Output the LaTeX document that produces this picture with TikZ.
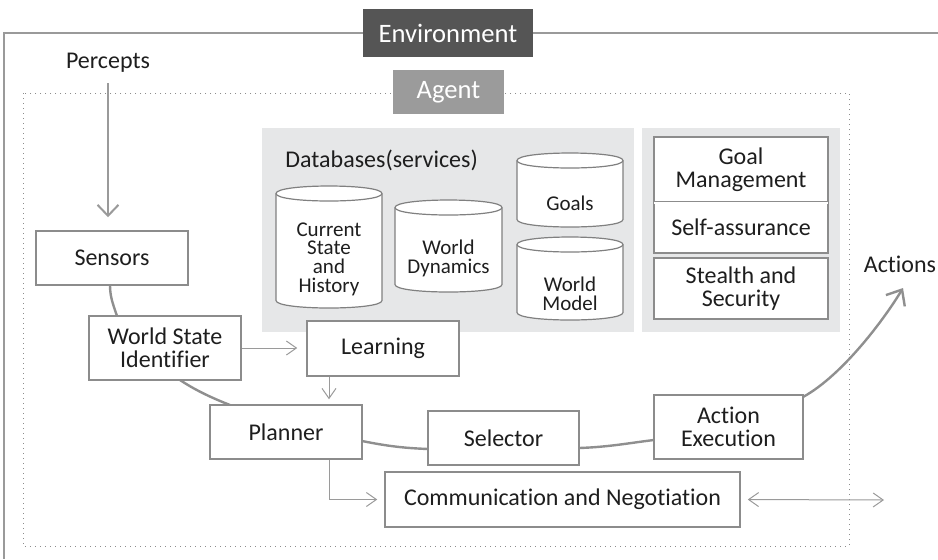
\documentclass[tikz,border=0pt]{standalone}
\usepackage{fontspec}
\setmainfont{Carlito}[Ligatures=NoCommon]
\usetikzlibrary{arrows.meta}
\definecolor{txt}{HTML}{1E1E1E}
\definecolor{boxgray}{HTML}{8C8C8C}
\definecolor{dbgray}{HTML}{808080}
\definecolor{arrgray}{HTML}{9A9A9A}
\definecolor{arcgray}{HTML}{8F8F8F}
\definecolor{panelgray}{HTML}{E6E7E8}
\definecolor{envgray}{HTML}{555555}
\definecolor{agentgray}{HTML}{9B9B9B}
\begin{document}
\begin{tikzpicture}[x=0.5pt,y=-0.5pt,
    box/.style={draw=boxgray, line width=0.75pt, fill=white, align=center, inner sep=0pt,
      text=txt, font=\fontsize{12}{11.5}\selectfont},
    can/.style={draw=dbgray, line width=0.6pt, fill=white},
    dbtext/.style={align=center, inner sep=0pt, text=txt, font=\fontsize{10.5}{9.3}\selectfont},
    tag/.style={text=white, inner sep=0pt, font=\fontsize{13.3}{14}\selectfont},
    lbl/.style={text=txt, inner sep=0pt, font=\fontsize{12}{11.5}\selectfont},
    arr/.style={draw=arrgray, line width=0.5pt, -{Straight Barb[length=5pt,width=7pt]}},
    arc/.style={draw=arcgray, line width=1.2pt}]
  \useasboundingbox (0,0) rectangle (938,559);

  % environment and agent frames
  \draw[draw=arrgray, line width=0.75pt] (938,33) -- (4,33) -- (4,559);
  \draw[draw=boxgray, line width=0.5pt, dotted] (23,93) rectangle (849,546);
  \node[tag, fill=envgray, minimum width=85pt, minimum height=24pt] (env) at (448,33) {Environment};
  \node[tag, fill=agentgray, minimum width=55.5pt, minimum height=22pt] (agent) at (448.5,92) {Agent};

  % databases
  \fill[panelgray] (262,128) rectangle (634,332);
  \fill[panelgray] (642,128) rectangle (840,332);
  \node[lbl, anchor=west] (dbs) at (285,160) {Databases(services)};
  \foreach \nm/\xa/\xb/\ya/\yb/\yt/\txt in {csh/276/382/186/308/259/{Current\\State\\and\\History},
      wd/395/502/200/292/258.5/{World\\Dynamics}, goals/517/623/153/227/203/{Goals},
      wm/517/623/237/320/293.5/{World\\Model}} {
    \filldraw[can] (\xa,\ya+7.5) .. controls (\xa,\ya-2.5) and (\xb,\ya-2.5) .. (\xb,\ya+7.5)
      -- (\xb,\yb-7.5) .. controls (\xb,\yb+2.5) and (\xa,\yb+2.5) .. (\xa,\yb-7.5) -- cycle;
    \draw[can] (\xa,\ya+7.5) .. controls (\xa,\ya+17.5) and (\xb,\ya+17.5) .. (\xb,\ya+7.5);
    \node[dbtext] (\nm) at ({(\xa+\xb)/2},\yt) {\txt};
  }

  \node[box, minimum width=87pt, minimum height=32.5pt] (gm) at (741,169.5) {Goal\\Management};
  \node[box, minimum width=87pt, minimum height=25.5pt] (sa) at (741,227.5) {Self-assurance};
  \node[box, minimum width=87pt, minimum height=30.5pt] (ss) at (741,288.5) {Stealth and\\Security};
  \draw[white, line width=0.75pt] ([xshift=0.4pt]gm.south west) -- ([xshift=-0.4pt]gm.south east);

  % main chain
  \node[lbl] (perc) at (108,63) {Percepts};
  \node[lbl] (act) at (900,264) {Actions};
  \coordinate (acttip) at (903,288);
  \coordinate (ext) at (884,500);

  \draw[arc] (110,285) .. controls +(0,12) and +(-4,-12) .. (117,316);
  \draw[arc] (180,380) .. controls +(15,10) and +(-18,-7) .. (230,405);
  \draw[arc] (362,441) .. controls +(25,5) and +(-25,-1) .. (428,449);
  \draw[arc] (579,448) .. controls +(30,-1) and +(-25,3) .. (654,440);
  \draw[arc, -{Straight Barb[length=6.5pt,width=11pt]}] (803,397) .. controls +(40,-22) and +(-18,30) .. (acttip);

  \node[box, minimum width=76pt, minimum height=27pt] (sens) at (112,258) {Sensors};
  \node[box, minimum width=76pt, minimum height=32pt] (wsi) at (165,348) {World State\\Identifier};
  \node[box, minimum width=76pt, minimum height=27.5pt] (learn) at (383,348.5) {Learning};
  \node[box, minimum width=76pt, minimum height=27pt] (plan) at (286,432) {Planner};
  \node[box, minimum width=75.5pt, minimum height=27pt] (sel) at (503.5,438) {Selector};
  \node[box, minimum width=74.5pt, minimum height=32pt] (ae) at (728.5,427) {Action\\Execution};
  \node[box, minimum width=177.5pt, minimum height=27.5pt] (comm) at (562.5,499.5) {Communication and Negotiation};

  \draw[arr, line width=1pt, -{Straight Barb[length=5.5pt,width=10.5pt]}, shorten <=5pt, shorten >=6.5pt]
    (perc.south) -- (perc.south |- sens.north);
  \draw[arr, shorten >=4.5pt] (wsi.east) -- (learn.west |- wsi.east);
  \draw[arr, shorten >=2.5pt] ([xshift=-27pt]learn.south) -- ([xshift=-27pt]learn.south |- plan.north);
  \draw[arr, shorten >=3.5pt] ([xshift=21.5pt]plan.south) |- (comm.west);
  \draw[arr, {Straight Barb[length=5pt,width=7pt]}-{Straight Barb[length=5pt,width=7pt]}, shorten <=3.5pt]
    (comm.east) -- (ext);
\end{tikzpicture}
\end{document}
